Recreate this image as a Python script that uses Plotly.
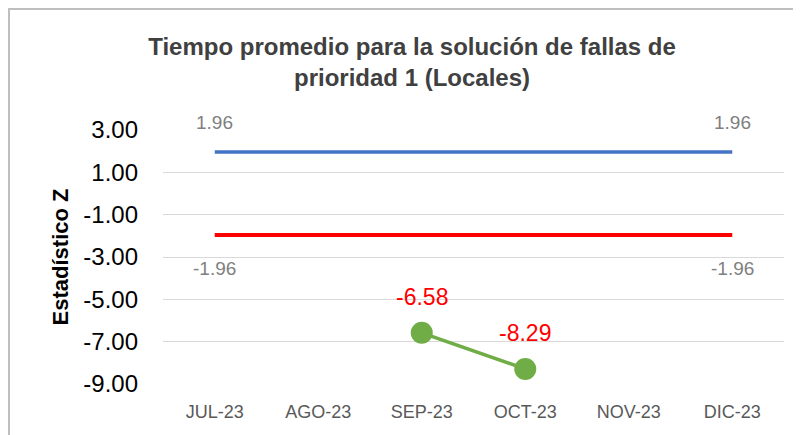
import plotly.graph_objects as go

months = ["JUL-23", "AGO-23", "SEP-23", "OCT-23", "NOV-23", "DIC-23"]
upper_limit = [1.96, 1.96, 1.96, 1.96, 1.96, 1.96]
lower_limit = [-1.96, -1.96, -1.96, -1.96, -1.96, -1.96]
z_values = [None, None, -6.58, -8.29, None, None]
y_ticks = [3, 1, -1, -3, -5, -7, -9]
y_tick_labels = ["3.00", "1.00", "-1.00", "-3.00", "-5.00", "-7.00", "-9.00"]

FONT = "Liberation Sans"
# The page body has an 8px margin, so the figure is sized to fit the window.
W, H = 793, 427

fig = go.Figure()
fig.add_trace(go.Scatter(x=months, y=upper_limit, mode="lines",
                         line=dict(color="#4472C4", width=3.5), hoverinfo="skip"))
fig.add_trace(go.Scatter(x=months, y=lower_limit, mode="lines",
                         line=dict(color="#FF0000", width=4), hoverinfo="skip"))
fig.add_trace(go.Scatter(x=months, y=z_values, mode="lines+markers",
                         line=dict(color="#70AD47", width=3.5),
                         marker=dict(color="#70AD47", size=22), hoverinfo="skip"))

annotations = []
for i in (0, len(months) - 1):
    annotations.append(dict(x=months[i], y=upper_limit[i], text=f"{upper_limit[i]:.2f}",
                            showarrow=False, yshift=30,
                            font=dict(family=FONT, size=19, color="#7F7F7F")))
    annotations.append(dict(x=months[i], y=lower_limit[i], text=f"{lower_limit[i]:.2f}",
                            showarrow=False, yshift=-34,
                            font=dict(family=FONT, size=19, color="#7F7F7F")))
for m, v in zip(months, z_values):
    if v is not None:
        annotations.append(dict(x=m, y=v, text=f"{v:.2f}", showarrow=False, yshift=36,
                                font=dict(family=FONT, size=23, color="#FF0000")))

fig.update_layout(
    width=W, height=H,
    margin=dict(l=155, r=17, t=122, b=51),
    paper_bgcolor="white", plot_bgcolor="white",
    showlegend=False,
    title=dict(text="Tiempo promedio para la solución de fallas de<br>prioridad 1 (Locales)",
               x=404 / W, xanchor="center", y=1 - 47 / H, yanchor="top",
               font=dict(family=FONT, size=24, color="#404040", weight="bold")),
    font=dict(family=FONT),
    annotations=annotations,
    shapes=[dict(type="path", xref="paper", yref="paper",
                 path="M -0.248,-0.5 L -0.248,1.4768 L 1.2,1.4768",
                 line=dict(color="#BFBFBF", width=2))],
)
fig.update_xaxes(type="category", range=[-0.5, 5.5], showgrid=False, showline=False,
                 zeroline=False, ticks="", ticklabelstandoff=15,
                 tickfont=dict(family=FONT, size=18, color="#595959"))
fig.update_yaxes(range=[-9, 3], tickvals=y_ticks, ticktext=y_tick_labels,
                 showgrid=True, gridcolor="#D9D9D9", gridwidth=1, zeroline=False,
                 showline=False, ticks="", ticklabelstandoff=24,
                 tickfont=dict(family=FONT, size=24, color="#000000"),
                 title=dict(text="Estadístico Z", standoff=8,
                            font=dict(family=FONT, size=22, color="#000000", weight="bold")))

fig.write_html("out.html")
